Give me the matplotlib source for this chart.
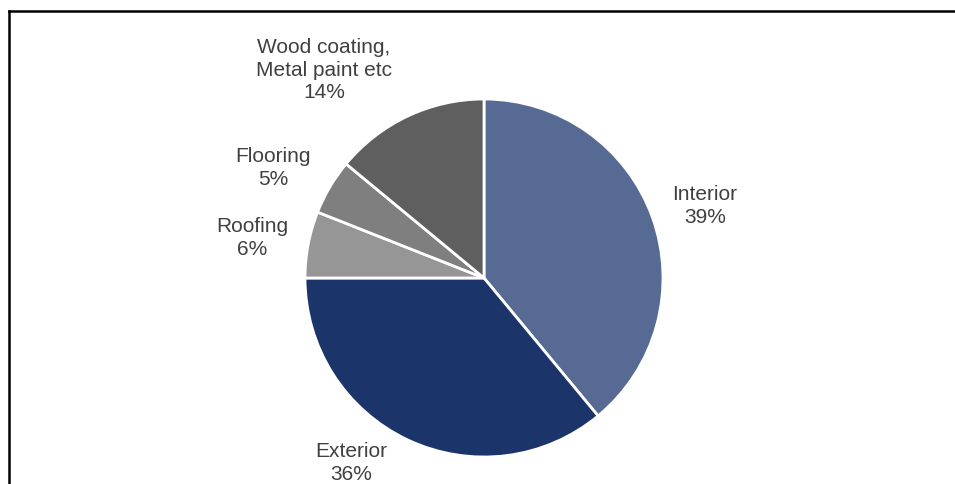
import matplotlib
matplotlib.use("Agg")
import matplotlib.pyplot as plt
from matplotlib.lines import Line2D

plt.rcParams['font.family'] = ['Liberation Sans', 'DejaVu Sans']

segments = ['Interior', 'Exterior', 'Roofing', 'Flooring', 'Wood coating,\nMetal paint etc']
shares = [39, 36, 6, 5, 14]
colors = ['#566A94', '#1B356A', '#969696', '#7F7F7F', '#5F5F5F']

# label centres as pixel offsets from the pie centre (x right, y up)
label_offsets = [(221, 73), (-133, -184), (-232, 41), (-211, 111), (-160, 209)]

W, H = 955, 485
cx, cy, radius = 484, H - 279, 179

fig = plt.figure(figsize=(W / 100, H / 100), dpi=100)
ax = fig.add_axes([0, 0, 1, 1])

wedges, texts = ax.pie(shares, colors=colors, startangle=90, counterclock=False,
                       center=(cx, cy), radius=radius, labels=segments,
                       wedgeprops=dict(edgecolor='white', linewidth=2),
                       frame=True)
ax.axis('off')
ax.set_xlim(0, W)
ax.set_ylim(0, H)
ax.set_aspect('equal')

for t, name, val, (dx, dy) in zip(texts, segments, shares, label_offsets):
    t.set_text(f"{name}\n{val}%")
    t.set_position((cx + dx, cy + dy))
    t.set_ha('center')
    t.set_va('center')
    t.set_fontsize(15)
    t.set_color('#404040')
    t.set_linespacing(1.22)

# chart frame (left and top edges)
fig.add_artist(Line2D([9 / W, 9 / W], [0, 1 - 12 / H], color='black', lw=1.8,
                      transform=fig.transFigure))
fig.add_artist(Line2D([9 / W, 1], [1 - 12 / H, 1 - 12 / H], color='black', lw=1.8,
                      transform=fig.transFigure))

fig.savefig('out.png', dpi=100, facecolor='white')
